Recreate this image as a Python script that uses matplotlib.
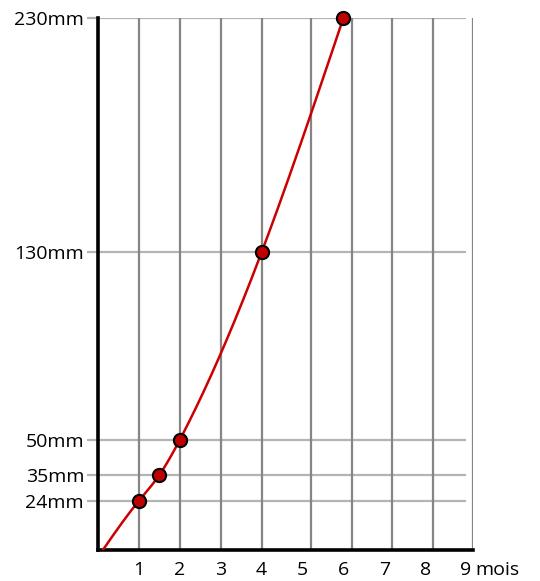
import numpy as np
import matplotlib
matplotlib.use("Agg")
import matplotlib.pyplot as plt
import matplotlib.transforms as mtransforms

# Data
months = [0, 1, 1.5, 2, 4, 6]
length_mm = [0, 24, 35, 50, 130, 230]
marked_months = [1, 1.5, 2, 4, 6]
marked_mm = [24, 35, 50, 130, 230]
ytick_vals = [24, 35, 50, 130, 230]
ytick_labels = ["24mm", "35mm", "50mm", "130mm", "230mm"]
xtick_vals = [1, 2, 3, 4, 5, 6, 7, 8, 9]
xtick_labels = ["1", "2", "3", "4", "5", "6", "7", "8", "9"]
vgrid_pos = [1, 2, 3, 4, 5.2, 6.2, 7.2, 8.2, 9.17]


def natural_spline(x, y, xs):
    x = np.asarray(x, float); y = np.asarray(y, float)
    n = len(x)
    h = np.diff(x)
    A = np.zeros((n, n)); b = np.zeros(n)
    A[0, 0] = 1; A[-1, -1] = 1
    for i in range(1, n - 1):
        A[i, i - 1] = h[i - 1]
        A[i, i] = 2 * (h[i - 1] + h[i])
        A[i, i + 1] = h[i]
        b[i] = 3 * ((y[i + 1] - y[i]) / h[i] - (y[i] - y[i - 1]) / h[i - 1])
    c = np.linalg.solve(A, b)
    out = np.empty_like(xs)
    for k, xv in enumerate(xs):
        i = min(max(np.searchsorted(x, xv) - 1, 0), n - 2)
        dx = xv - x[i]
        bi = (y[i + 1] - y[i]) / h[i] - h[i] * (2 * c[i] + c[i + 1]) / 3
        di = (c[i + 1] - c[i]) / (3 * h[i])
        out[k] = y[i] + bi * dx + c[i] * dx ** 2 + di * dx ** 3
    return out


plt.rcParams['font.family'] = ['Open Sans', 'DejaVu Sans']
FS = 14

fig = plt.figure(figsize=(5.4, 5.81), dpi=100)
ax = fig.add_axes([98 / 540, 31 / 581, 375 / 540, 532 / 581])
ax.set_xlim(0, 9.17)
ax.set_ylim(3, 230)

# grid
ax.hlines(ytick_vals, 0, 9, colors="#b4b4b4", linewidth=1.6, zorder=1)
for xv in vgrid_pos:
    ax.axvline(xv, color="#858585", linewidth=1.6, zorder=1)

xs = np.linspace(months[0], months[-1], 400)
ys = natural_spline(months, length_mm, xs)
ax.plot(xs, ys, color="#cc0000", linewidth=1.8, zorder=3)
ax.plot(marked_months, marked_mm, linestyle="none", marker="o", markersize=9.5,
        markerfacecolor="#c00000", markeredgecolor="black", markeredgewidth=1.5,
        zorder=4, clip_on=False)

for s in ["top", "right"]:
    ax.spines[s].set_visible(False)
ax.spines["left"].set_linewidth(2.6)
ax.spines["bottom"].set_linewidth(2.6)

ax.set_yticks(ytick_vals)
ax.set_yticklabels(ytick_labels, fontsize=FS)
ax.tick_params(axis="y", length=8, width=1.6, color="#b4b4b4", pad=2)
ax.set_xticks(xtick_vals)
ax.set_xticklabels(xtick_labels, fontsize=FS)
PAD = 8
ax.tick_params(axis="x", length=0, pad=PAD)

trans = mtransforms.offset_copy(ax.get_xaxis_transform(), fig=fig, y=-PAD, units="points")
ax.text(9.22, 0, "mois", transform=trans, fontsize=FS, ha="left", va="top")

fig.savefig("out.png", dpi=100)
